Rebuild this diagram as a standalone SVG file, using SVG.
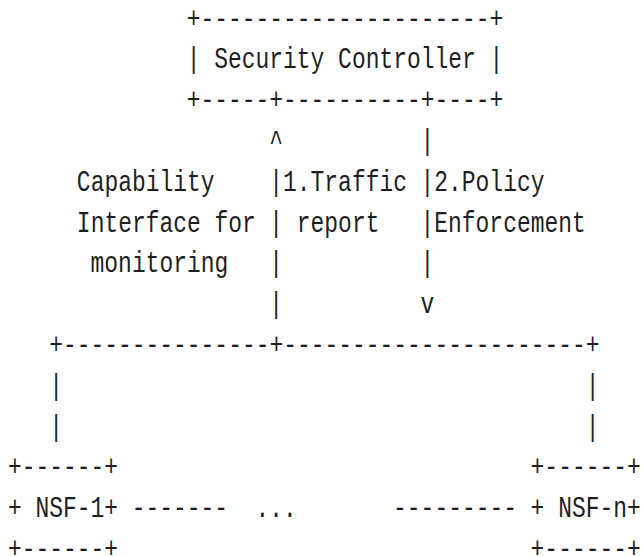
<svg xmlns="http://www.w3.org/2000/svg" width="642" height="556" viewBox="0 0 642 556">
<style>
text{font-family:"Liberation Mono","Courier New",monospace;font-size:22.92px;fill:#1e1e1e;white-space:pre}
</style>
<rect width="642" height="556" fill="#ffffff"/>
<g transform="scale(1,1.25)">
<g id="security-controller">
<text x="186.875" y="22.16">+---------------------+</text>
<text x="186.875" y="54.80" xml:space="preserve">| Security Controller |</text>
<text x="186.875" y="87.44">+-----+----------+----+</text>
</g>
<g id="connectors">
<text x="269.375" y="120.08">^</text>
<text x="420.625" y="120.08">|</text>
<text x="269.375" y="152.72">|1.Traffic</text>
<text x="420.625" y="152.72">|2.Policy</text>
<text x="269.375" y="185.36" xml:space="preserve">| report</text>
<text x="420.625" y="185.36">|Enforcement</text>
<text x="269.375" y="218.00">|</text>
<text x="420.625" y="218.00">|</text>
<text x="269.375" y="250.64">|</text>
<text x="420.625" y="250.64">v</text>
<text x="49.375" y="283.28">+---------------+----------------------+</text>
<text x="49.375" y="315.92">|</text>
<text x="585.875" y="315.92">|</text>
<text x="49.375" y="348.56">|</text>
<text x="585.875" y="348.56">|</text>
<text x="131.875" y="413.84">-------</text>
<text x="255.625" y="413.84">...</text>
<text x="393.125" y="413.84">---------</text>
</g>
<g id="capability-label">
<text x="76.875" y="152.72">Capability</text>
<text x="76.875" y="185.36">Interface for</text>
<text x="90.625" y="218.00">monitoring</text>
</g>
<g id="nsf-1">
<text x="8.125" y="381.20">+------+</text>
<text x="8.125" y="413.84" xml:space="preserve">+ NSF-1+</text>
<text x="8.125" y="446.48">+------+</text>
</g>
<g id="nsf-n">
<text x="530.625" y="381.20">+------+</text>
<text x="530.625" y="413.84" xml:space="preserve">+ NSF-n+</text>
<text x="530.625" y="446.48">+------+</text>
</g>
</g>
</svg>
